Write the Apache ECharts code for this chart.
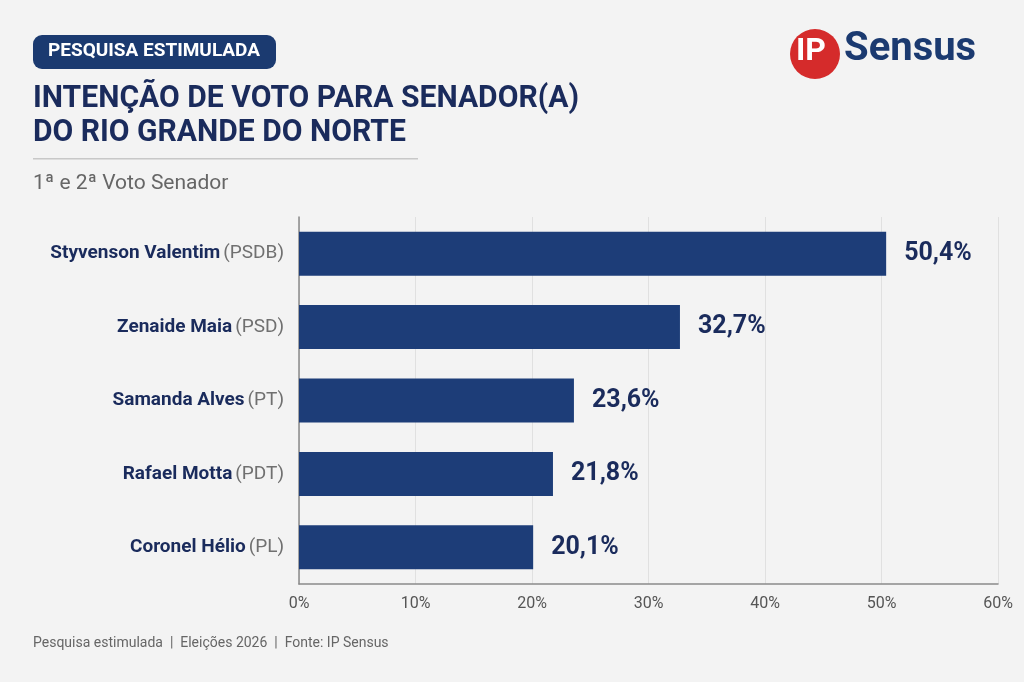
<!DOCTYPE html>
<html>
<head>
<meta charset="utf-8">
<script src="https://cdn.jsdelivr.net/npm/echarts@6/dist/echarts.min.js"></script>
<style>
  html, body { margin: 0; padding: 0; background: #f3f3f3; }
  #chart { width: 1024px; height: 682px; }
</style>
</head>
<body>
<div id="chart"></div>
<script>
// candidates, top to bottom as shown
var names = ['Styvenson Valentim', 'Zenaide Maia', 'Samanda Alves', 'Rafael Motta', 'Coronel Hélio'];
var parties = ['PSDB', 'PSD', 'PT', 'PDT', 'PL'];
var votes = [50.4, 32.7, 23.6, 21.8, 20.1];
var xTicks = [0, 10, 20, 30, 40, 50, 60];

var navy = '#1a2b5c';
var barColor = '#1d3d78';
var font = 'Roboto, "Noto Sans", sans-serif';

// category axis is inverted so first entry sits at the top
var cats = names.map(function (n, i) { return n + '|' + parties[i]; });

var chart = echarts.init(document.getElementById('chart'));
chart.setOption({
    backgroundColor: '#f3f3f3',
    textStyle: { fontFamily: font },
    grid: { left: 299, right: 26, top: 217, bottom: 98 },
    xAxis: {
        type: 'value',
        min: xTicks[0],
        max: xTicks[xTicks.length - 1],
        interval: 10,
        axisLine: { show: true, lineStyle: { color: '#8a8a8a', width: 1.5 } },
        axisTick: { show: false },
        splitLine: { show: true, lineStyle: { color: '#e0e0e0', width: 1 } },
        axisLabel: {
            formatter: '{value}%',
            color: '#555',
            fontSize: 16,
            margin: 12,
            fontFamily: font
        }
    },
    yAxis: {
        type: 'category',
        inverse: true,
        data: cats,
        axisLine: { show: true, lineStyle: { color: '#8a8a8a', width: 1.5 } },
        axisTick: { show: false },
        axisLabel: {
            margin: 15,
            formatter: function (v) {
                var p = v.split('|');
                return '{n|' + p[0] + '} {p|(' + p[1] + ')}';
            },
            rich: {
                n: { color: navy, fontSize: 19, fontWeight: 'bold', fontFamily: font },
                p: { color: '#707070', fontSize: 19, fontFamily: font }
            }
        }
    },
    series: [{
        type: 'bar',
        data: votes,
        barWidth: 44,
        itemStyle: { color: barColor },
        label: {
            show: true,
            position: 'right',
            distance: 18,
            color: navy,
            fontSize: 25,
            fontWeight: 'bold',
            fontFamily: font,
            formatter: function (p) { return p.value.toFixed(1).replace('.', ',') + '%'; }
        }
    }],
    graphic: [
        // badge
        {
            type: 'rect', left: 33, top: 35,
            shape: { width: 243, height: 34, r: 9 },
            style: { fill: '#1b3a70' }
        },
        {
            type: 'text', left: 48, top: 42,
            style: { text: 'PESQUISA ESTIMULADA', fill: '#fff', font: 'bold 19px ' + font }
        },
        // title
        {
            type: 'text', left: 33, top: 82, scaleX: 0.94,
            style: {
                text: 'INTENÇÃO DE VOTO PARA SENADOR(A)\nDO RIO GRANDE DO NORTE',
                fill: navy, font: 'bold 32px ' + font, lineHeight: 34
            }
        },
        {
            type: 'rect', left: 33, top: 158,
            shape: { width: 385, height: 1.5 },
            style: { fill: '#c8c8c8' }
        },
        {
            type: 'text', left: 33, top: 173,
            style: { text: '1ª e 2ª Voto Senador', fill: '#666', font: '21px ' + font }
        },
        // logo
        {
            type: 'circle', shape: { cx: 815, cy: 54, r: 25 },
            style: { fill: '#d52b2b' }
        },
        {
            type: 'text', left: 796, top: 36,
            style: { text: 'IP', fill: '#fff', font: 'bold 32px ' + font }
        },
        {
            type: 'text', left: 844, top: 30,
            style: { text: 'Sensus', fill: '#1b3a70', font: 'bold 40px ' + font }
        },
        // footer
        {
            type: 'text', left: 33, top: 636,
            style: {
                text: 'Pesquisa estimulada  |  Eleições 2026  |  Fonte: IP Sensus',
                fill: '#666', font: '14px ' + font
            }
        }
    ]
});
</script>
</body>
</html>
